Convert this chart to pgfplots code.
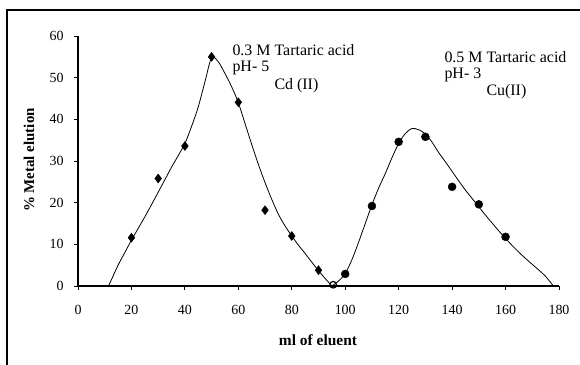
\documentclass[border=0pt]{standalone}
\usepackage{fontspec}
\setmainfont{Liberation Serif}
\usepackage{pgfplots}
\pgfplotsset{compat=1.18}
\begin{document}
\begin{tikzpicture}
\useasboundingbox (0,0) rectangle (580bp,-365bp);
\draw[line width=1.2bp] (7bp,-365bp) -- (7bp,-10bp) -- (580bp,-10bp);
\begin{axis}[
  at={(78bp,-286bp)}, anchor=south west,
  scale only axis, width=481bp, height=250bp,
  xmin=0, xmax=180, ymin=0, ymax=60,
  axis x line*=bottom, axis y line*=left,
  x axis line style={-, line width=1.3bp},
  y axis line style={-, line width=1.3bp},
  xtick={0,20,...,180}, ytick={0,10,...,60},
  tick align=outside, major tick length=4bp,
  tick style={line width=1bp, black},
  /pgf/number format/assume math mode=true,
  ticklabel style={font=\fontsize{14}{16}\selectfont},
  xticklabel style={yshift=-12bp},
  yticklabel style={xshift=-7bp},
  clip=false,
]
% Cd(II) fitted curve
\addplot[black, line width=0.8bp, smooth, tension=0.5] coordinates {
 (11.4,0) (12.5,1.5) (15,5) (17.5,8) (20,11) (22.5,13.8) (25,16.6) (27.5,19.5) (30,22.5)
 (32.5,25.5) (35,28.5) (37.5,31.3) (40,34.2) (42.5,38.3) (45,43) (47.5,49) (50,54.8)
 (52.5,53.8) (55,51) (57.5,47.8) (60,44) (62.5,39) (65,34) (67.5,29.2) (70,24.8) (72.5,20.8)
 (75,17.2) (77.5,14.4) (80,12) (82.5,9.8) (85,7.8) (87.5,5.7) (90,3.7) (92.5,1.8) (95,0)};
% Cu(II) fitted curve
\addplot[black, line width=0.8bp, smooth, tension=0.5] coordinates {
 (95,0) (97.5,1.2) (100,3) (102.5,6.3) (105,10.5) (107.5,15) (110,19.5) (112.5,23.5)
 (115,27) (117.5,30.8) (120,34.2) (122.5,36.6) (125,37.8) (127.5,37.5) (130,36.5)
 (132.5,34.5) (135,32) (137.5,29.8) (140,27.5) (142.5,25.2) (145,23) (147.5,21) (150,19)
 (152.5,17) (155,15.1) (157.5,13.2) (160,11.4) (162.5,9.7) (165,8.1) (167.5,6.6) (170,5.2)
 (172.5,3.8) (175,2.3) (177.9,0)};
% Cd(II) data
\addplot[only marks, mark=diamond*, mark size=4.5bp, black] coordinates {
 (20,11.6) (30,25.8) (40,33.6) (50,55.0) (60,44.1) (70,18.2) (80,12.0) (90,3.8)};
% Cu(II) data
\addplot[only marks, mark=*, mark size=4bp, black] coordinates {
 (100,2.9) (110,19.2) (120,34.6) (130,35.8) (140,23.8) (150,19.6) (160,11.8)};
\addplot[only marks, mark=o, mark size=3.3bp, black, line width=1.2bp] coordinates {(95.5,0.3)};
\end{axis}
\node[anchor=west, font=\fontsize{16}{18}\selectfont] at (229bp,-50bp) {0.3 M Tartaric acid};
\node[anchor=west, font=\fontsize{16}{18}\selectfont] at (229bp,-68bp) {pH- 5};
\node[anchor=west, font=\fontsize{16}{18}\selectfont] at (271bp,-86bp) {Cd (II)};
\node[anchor=west, font=\fontsize{16}{18}\selectfont] at (441bp,-57bp) {0.5 M Tartaric acid};
\node[anchor=west, font=\fontsize{16}{18}\selectfont] at (441bp,-75bp) {pH- 3};
\node[anchor=west, font=\fontsize{16}{18}\selectfont] at (483bp,-92bp) {Cu(II)};
\node[rotate=90, font=\fontsize{15}{17}\selectfont\bfseries] at (29bp,-160bp) {\% Metal elution};
\node[font=\fontsize{15.5}{17}\selectfont\bfseries] at (318bp,-340bp) {ml of eluent};
\end{tikzpicture}
\end{document}
